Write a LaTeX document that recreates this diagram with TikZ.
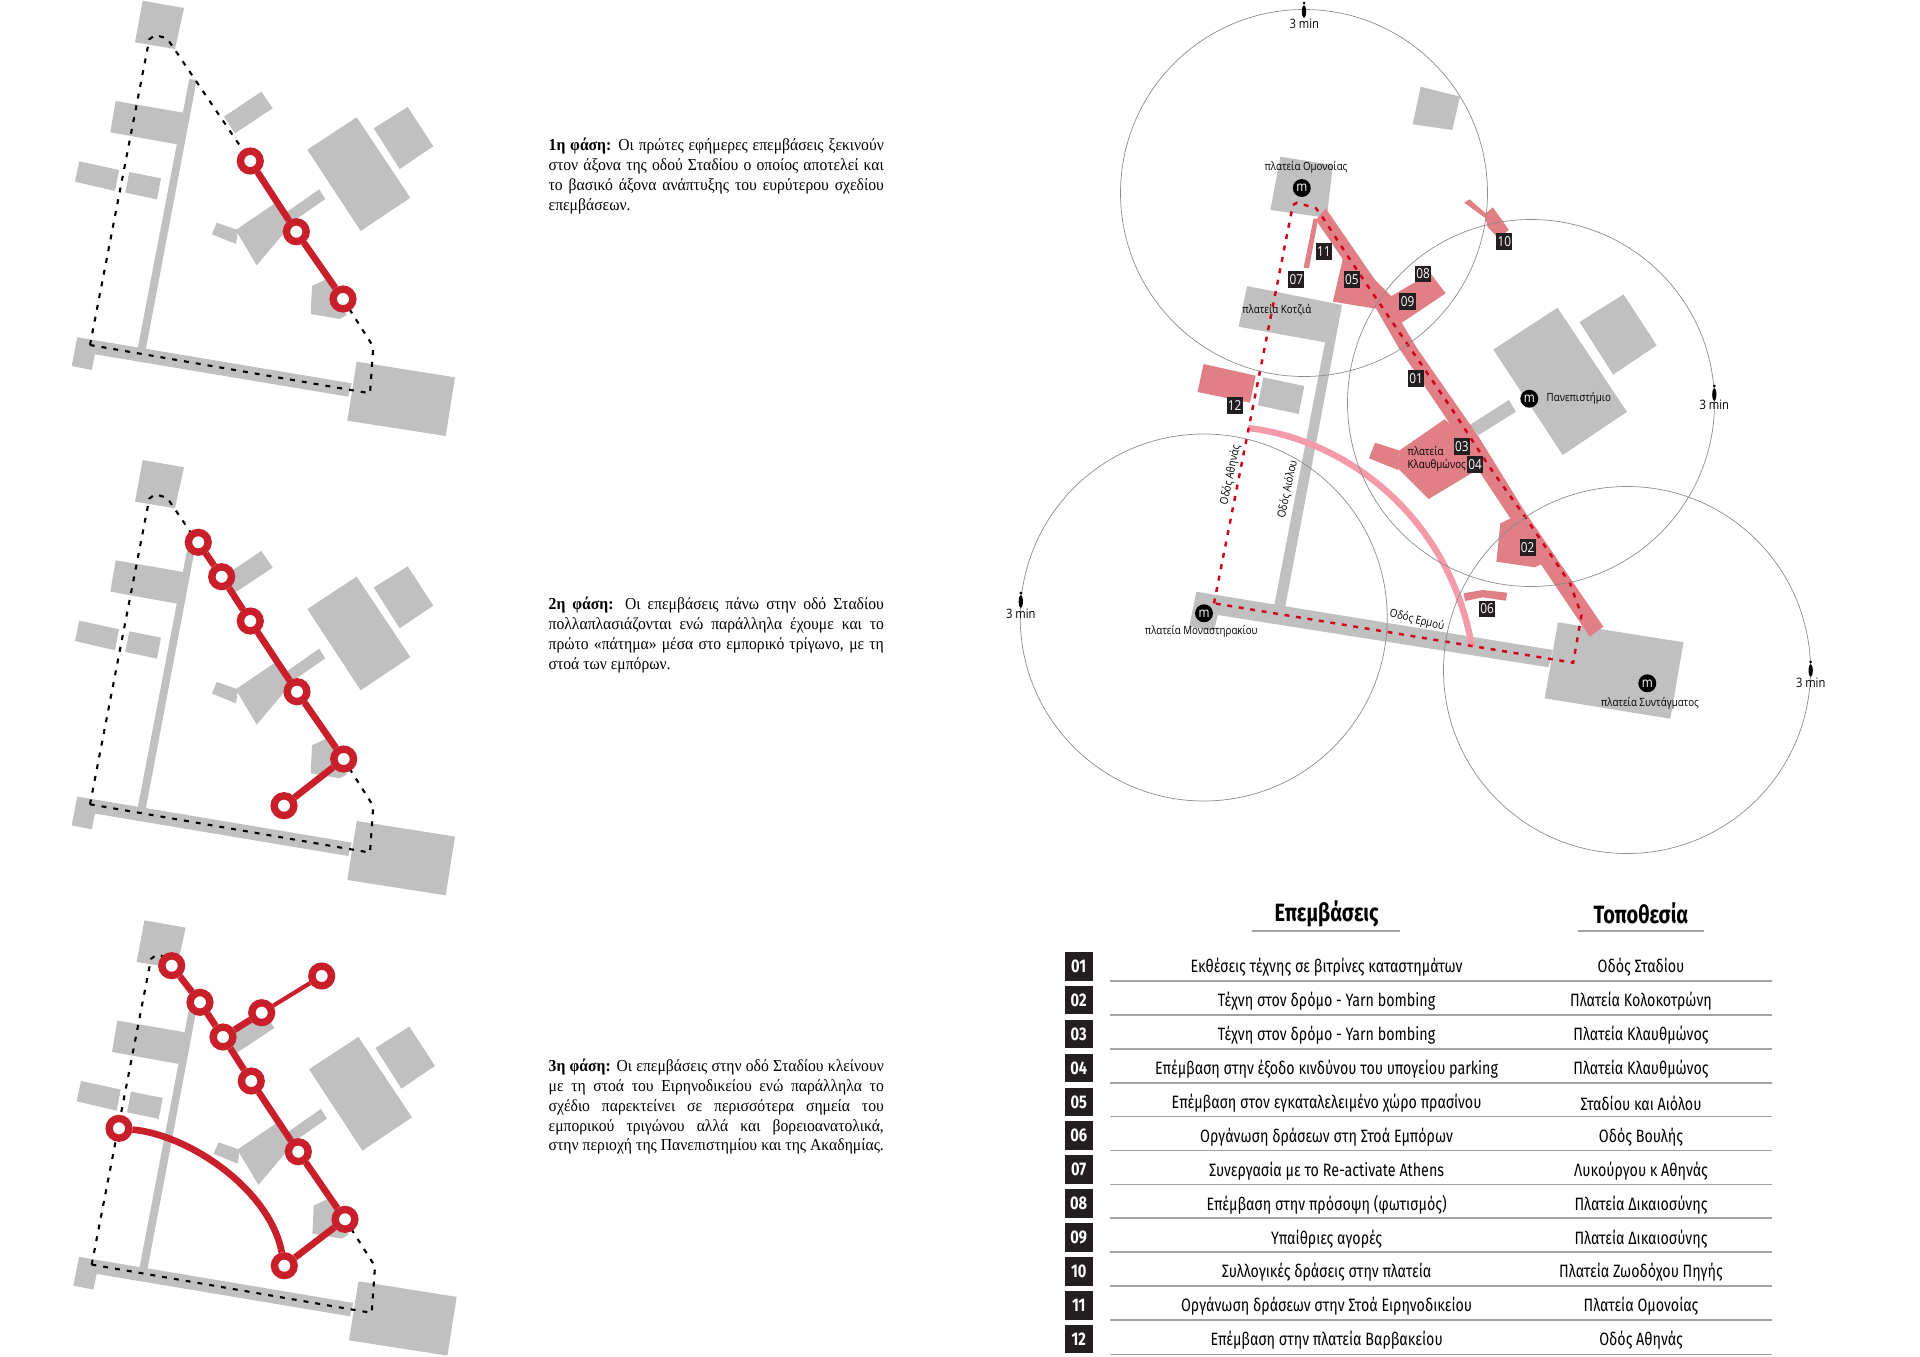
\documentclass[tikz,border=0pt]{standalone}
\usepackage{fontspec}
\setmainfont[FakeStretch=0.93]{Liberation Serif}
\newfontfamily\mapfont[FakeStretch=0.86]{Open Sans}
\newfontfamily\listfont[FakeStretch=0.8]{Fira Sans}
\definecolor{blockgrey}{HTML}{C1C0C0}
\definecolor{zonered}{HTML}{E17F86}
\definecolor{arcpink}{HTML}{F49AA9}
\definecolor{ringred}{HTML}{C91F2A}
\definecolor{routered}{HTML}{D0021B}
\definecolor{tagblack}{HTML}{231F20}
\tikzset{
  block/.style={fill=blockgrey},
  zone/.style={fill=zonered},
  blackroute/.style={black,line width=.6pt,dash pattern=on 1.4pt off 2pt},
  redroute/.style={routered,line width=.7pt,dash pattern=on 1.4pt off 1.9pt},
  stop/.style={circle,draw=ringred,fill=white,line width=2.1pt,minimum size=5.6pt,inner sep=0pt},
  link/.style={ringred,line width=1.9pt},
  thinlink/.style={ringred,line width=1.2pt},
  walk/.style={draw=black!45,line width=.2pt},
  tag/.style={fill=tagblack,text=white,inner sep=0pt,minimum width=4.6pt,minimum height=4.8pt,font=\mapfont\fontsize{3.9}{3.9}\selectfont},
  rowtag/.style={fill=tagblack,text=white,inner sep=0pt,minimum width=8pt,minimum height=8.2pt,font=\listfont\bfseries\fontsize{5.2}{5.5}\selectfont},
  metro/.style={circle,fill=black,text=white,inner sep=0pt,minimum size=5.1pt,font=\mapfont\fontsize{3.9}{3.9}\selectfont},
  place/.style={inner sep=0pt,font=\mapfont\fontsize{3.22}{3.7}\selectfont},
  minute/.style={inner sep=0pt,font=\mapfont\fontsize{3.7}{3.7}\selectfont},
  rowtext/.style={inner sep=0pt,yshift=-.3pt,font=\listfont\fontsize{5.08}{5.6}\selectfont},
  headtext/.style={inner sep=0pt,font=\listfont\bfseries\fontsize{7.1}{7.5}\selectfont},
  rowrule/.style={blockgrey!85!black,line width=.5pt},
  phase/.style={inner sep=0pt,anchor=north west,align=left,font=\fontsize{4.78}{5.67}\selectfont},
}
% one justified line of a phase text
\newcommand{\fline}[1]{\makebox[95.3pt][s]{#1}\\}
% small walking figure, the feet end at (x,y)
\newcommand{\walker}[2]{
\fill[black] (#1,#2-15) circle (1.5);
\fill[black] (#1,#2-6.5) ellipse (2.1 and 6.5);
}
% the grey plan under the three small maps
\newcommand{\basemap}{
\fill[block] (142.7,0.7) -- (184,8) -- (175,49) -- (135,42.3) -- cycle;
\fill[block] (189.3,79) -- (196.7,80) -- (145.7,350) -- (137.7,348.3) -- cycle;
\fill[block] (115.7,101) -- (187,113.3) -- (176.7,144.3) -- (110.3,132.3) -- cycle;
\fill[block] (79.3,161.3) -- (119,170) -- (115,191) -- (75,181.7) -- cycle;
\fill[block] (129.3,172) -- (161,178.3) -- (157,199.3) -- (125.3,192.7) -- cycle;
\fill[block] (224,116.7) -- (261.3,91.7) -- (272.7,108.3) -- (235,133.3) -- cycle;
\fill[block] (356.7,117.3) -- (410.3,197.7) -- (360.7,231) -- (307.3,149.7) -- cycle;
\fill[block] (407.7,107) -- (433.3,146.3) -- (399.7,169) -- (373.7,128.3) -- cycle;
\fill[block] (235.7,230) -- (274,204) -- (285,213.3) -- (319.3,189.3) -- (325.3,199) -- (295,220) -- (256.7,265.3) -- cycle;
\fill[block] (216.7,222.7) -- (238,230) -- (236,244) -- (212,234.3) -- cycle;
\fill[block] (312,286) -- (328.3,278.3) -- (343.3,300) -- (346.7,315) -- (340,319) -- (310.7,314) -- cycle;
\fill[block] (77.3,337.3) -- (351.7,383.3) -- (348.3,396.7) -- (95,354.3) -- (91.7,370) -- (71.7,366) -- cycle;
\fill[block] (356.7,361.7) -- (455,377.3) -- (445.7,436) -- (347.3,420.7) -- cycle;
\draw[blackroute] (90,345) -- (149.3,39.3) -- (155,35) -- (167,38.3) -- (175,50) -- (250.3,161) -- (296.3,231.7) -- (343,299) -- (373.3,346.7) -- (370,393.3) -- cycle;
}

\begin{document}
\begin{tikzpicture}[x=.01cm,y=-.01cm]
\useasboundingbox (0,0) rectangle (1920,1357);

% first phase
\basemap
\node[stop] (A1) at (250.3,161) {};
\node[stop] (A2) at (296.3,231.7) {};
\node[stop] (A3) at (343,299) {};
\draw[link] (A1) -- (A2);
\draw[link] (A2) -- (A3);

% second phase
\begin{scope}[shift={(0,459.3)}]
\basemap
\end{scope}
\node[stop] (B1) at (198.3,542.3) {};
\node[stop] (B2) at (221.7,576.7) {};
\node[stop] (B3) at (250.3,621) {};
\node[stop] (B4) at (297,691.7) {};
\node[stop] (B5) at (343.7,759) {};
\node[stop] (B6) at (284,805.7) {};
\draw[link] (B1) -- (B2);
\draw[link] (B2) -- (B3);
\draw[link] (B3) -- (B4);
\draw[link] (B4) -- (B5);
\draw[link] (B5) -- (B6);

% third phase
\begin{scope}[shift={(1.7,919.6)}]
\basemap
\end{scope}
\node[stop] (C1) at (171.7,965.7) {};
\node[stop] (C2) at (200,1002.3) {};
\node[stop] (C3) at (223,1037) {};
\node[stop] (C4) at (251.3,1081) {};
\node[stop] (C5) at (298.3,1151.7) {};
\node[stop] (C6) at (345,1219.3) {};
\node[stop] (C7) at (284.3,1265.7) {};
\node[stop] (C8) at (119,1128.3) {};
\node[stop] (C9) at (261.7,1012.7) {};
\node[stop] (C10) at (321.7,976) {};
\draw[link] (C1) -- (C2);
\draw[link] (C2) -- (C3);
\draw[link] (C3) -- (C4);
\draw[link] (C4) -- (C5);
\draw[link] (C5) -- (C6);
\draw[link] (C6) -- (C7);
\draw[link] (C3) -- (C9);
\draw[thinlink] (C9) -- (C10);
\draw[link] (C8) .. controls (190,1135) and (270,1190) .. (C7);

% phase texts
\node[phase] (T1) at (548,137) {\fline{\textbf{1η φάση:} Οι πρώτες εφήμερες επεμβάσεις ξεκινούν}\fline{στον άξονα της οδού Σταδίου ο οποίος αποτελεί και}\fline{το βασικό άξονα ανάπτυξης του ευρύτερου σχεδίου}επεμβάσεων.};
\node[phase] (T2) at (548,596) {\fline{\textbf{2η φάση:} Οι επεμβάσεις πάνω στην οδό Σταδίου}\fline{πολλαπλασιάζονται ενώ παράλληλα έχουμε και το}\fline{πρώτο «πάτημα» μέσα στο εμπορικό τρίγωνο, με τη}στοά των εμπόρων.};
\node[phase] (T3) at (548,1058) {\fline{\textbf{3η φάση:} Οι επεμβάσεις στην οδό Σταδίου κλείνουν}\fline{με τη στοά του Ειρηνοδικείου ενώ παράλληλα το}\fline{σχέδιο παρεκτείνει σε περισσότερα σημεία του}\fline{εμπορικού τριγώνου αλλά και βορειοανατολικά,}\fline{στην περιοχή της Πανεπιστημίου και της Ακαδημίας.}};

% large plan, grey
\fill[block] (1420.7,86.7) -- (1460,96.7) -- (1452.3,130) -- (1412.7,124.3) -- cycle;
\fill[block] (1280.4,156.7) -- (1332.9,165) -- (1326.8,217.7) -- (1270.4,210) -- cycle;
\fill[block] (1247.1,286) -- (1342.1,305) -- (1325,342.3) -- (1238.6,326.7) -- cycle;
\fill[block] (1342.1,305) -- (1285.2,606.7) -- (1274.3,605) -- (1325,342.3) -- cycle;
\fill[block] (1263.2,377.3) -- (1304.3,386) -- (1298.6,414) -- (1257.9,405.3) -- cycle;
\fill[block] (1557.5,307.7) -- (1627,411.8) -- (1562.7,455) -- (1493.3,349.6) -- cycle;
\fill[block] (1623.6,294.4) -- (1656.7,345.3) -- (1613.2,374.7) -- (1579.5,322) -- cycle;
\fill[block] (1508.9,400) -- (1516,411.7) -- (1478.6,435) -- (1469.6,425) -- cycle;
\fill[block] (1196.4,591.7) -- (1552.9,650) -- (1548.5,667.3) -- (1217.8,615) -- (1214,630.7) -- (1189.2,626.7) -- cycle;
\fill[block] (1557.9,622.3) -- (1683.5,642.3) -- (1670.3,718.7) -- (1544.7,698.3) -- cycle;

% large plan, the arc and the red zones
\draw[arcpink,line width=1.8pt] (1248,428) .. controls (1350,440) and (1450,520) .. (1472,647);
\fill[zone] (1325.7,208.3) -- (1384,293) -- (1416,346.7) -- (1478.6,436.7) -- (1525,512) -- (1603.4,626.7) -- (1589.7,636.7) -- (1540,563) -- (1482.7,476.7) -- (1446,418) -- (1398,346.7) -- (1375,306.7) -- (1316,220) -- cycle;
\fill[zone] (1316,220) -- (1343,258) -- (1332.9,301.7) -- (1378,309) -- (1395,300) -- cycle;
\fill[zone] (1313.6,218.3) -- (1318,219.3) -- (1309,268.3) -- (1303.6,267.7) -- cycle;
\fill[zone] (1387.5,298.3) -- (1416,281.7) -- (1430.4,273.3) -- (1445.7,293.3) -- (1401.8,322.7) -- (1392,322) -- cycle;
\fill[zone] (1444.6,419.3) -- (1400,450) -- (1398,468.3) -- (1428.6,499) -- (1471.4,473.3) -- (1490,460) -- cycle;
\fill[zone] (1375,442.7) -- (1400,450.7) -- (1398,470) -- (1369,458.3) -- cycle;
\fill[zone] (1512.9,517.3) -- (1500.3,523.3) -- (1496.4,561.7) -- (1534.8,567.3) -- (1543,563.3) -- (1525,515) -- cycle;
\fill[zone] (1464.3,202.7) -- (1469.6,199.3) -- (1485.7,213.3) -- (1492.9,207.3) -- (1508.9,230) -- (1498.2,238.3) -- (1487.5,226.7) -- (1485.7,218.3) -- cycle;
\fill[zone] (1463.5,593.3) -- (1482.7,590) -- (1507.4,592.7) -- (1505.8,600.7) -- (1482.7,597.3) -- (1465.2,601) -- cycle;
\fill[zone] (1203.6,364) -- (1255.7,375.7) -- (1250,402.7) -- (1197.5,392) -- cycle;

% large plan, the route
\draw[redroute] (1214,603.3) -- (1292.9,205) -- (1297,202.7) -- (1316,208.3) -- (1323.2,218.3) -- (1353.6,265) -- (1384,310) -- (1416,356.7) -- (1453.6,411.7) -- (1489.3,466.7) -- (1525,516.7) -- (1570,583.3) -- (1581.5,615) -- (1573.2,662.7) -- cycle;

% three minute circles
\draw[walk] (1304,193) circle (183.5);
\draw[walk] (1531,403) circle (183.5);
\draw[walk] (1203.7,617.5) circle (183.5);
\draw[walk] (1627,670) circle (183.5);
\walker{1304}{18}
\walker{1020.8}{608}
\walker{1714.3}{401}
\walker{1810.7}{677}
\node[minute] (M1) at (1304.3,24) {3 min};
\node[minute] (M2) at (1020.8,614) {3 min};
\node[minute] (M3) at (1714.3,405) {3 min};
\node[minute] (M4) at (1810.7,683) {3 min};

% places on the plan
\node[metro] (S1) at (1301.8,188) {m};
\node[metro] (S2) at (1529.3,398.7) {m};
\node[metro] (S3) at (1204,613.3) {m};
\node[metro] (S4) at (1647.3,683.3) {m};
\node[place] (P1) at (1306,167) {πλατεία Ομονοίας};
\node[place] (P2) at (1276.8,310.3) {πλατεία Κοτζιά};
\node[place,anchor=west] (P3) at (1546,398.7) {Πανεπιστήμιο};
\node[place,anchor=west,align=left] (P4) at (1407,458.5) {πλατεία\\Κλαυθμώνος};
\node[place,rotate=78] (P5) at (1230.4,475) {Οδός Αθηνάς};
\node[place,rotate=78] (P6) at (1287.5,489.3) {Οδός Αιόλου};
\node[place,rotate=-14] (P7) at (1416.9,620.3) {Οδός Ερμού};
\node[place] (P8) at (1201.3,631.3) {πλατεία Μοναστηρακίου};
\node[place] (P9) at (1650,703.3) {πλατεία Συντάγματος};

% numbers on the plan
\node[tag] (G1) at (1416,378.7) {01};
\node[tag] (G2) at (1527.7,547.3) {02};
\node[tag] (G3) at (1461.8,446.7) {03};
\node[tag] (G4) at (1475,464.7) {04};
\node[tag] (G5) at (1351.8,279.7) {05};
\node[tag] (G6) at (1487.1,609) {06};
\node[tag] (G7) at (1296.4,279.7) {07};
\node[tag] (G8) at (1423.2,274) {08};
\node[tag] (G9) at (1407.5,301.7) {09};
\node[tag] (G10) at (1504.3,241.7) {10};
\node[tag] (G11) at (1323.9,251.7) {11};
\node[tag] (G12) at (1234.6,405.3) {12};

% table
\node[headtext] (H1) at (1326.6,913.5) {Επεμβάσεις};
\node[headtext] (H2) at (1641,913.5) {Τοποθεσία};
\draw[rowrule] (1252.4,931.3) -- (1400.2,931.3);
\draw[rowrule] (1577.8,931.3) -- (1704,931.3);

\node[rowtag] (N1) at (1078.7,966.2) {01};
\node[rowtext] (W1) at (1326.6,966.5) {Εκθέσεις τέχνης σε βιτρίνες καταστημάτων};
\node[rowtext] (L1) at (1641,966.5) {Οδός Σταδίου};
\draw[rowrule] (1110,981) -- (1771.5,981);

\node[rowtag] (N2) at (1078.7,1000) {02};
\node[rowtext] (W2) at (1326.6,1000.4) {Τέχνη στον δρόμο - Yarn bombing};
\node[rowtext] (L2) at (1641,1000.4) {Πλατεία Κολοκοτρώνη};
\draw[rowrule] (1110,1014.9) -- (1771.5,1014.9);

\node[rowtag] (N3) at (1078.7,1034) {03};
\node[rowtext] (W3) at (1326.6,1034.3) {Τέχνη στον δρόμο - Yarn bombing};
\node[rowtext] (L3) at (1641,1034.3) {Πλατεία Κλαυθμώνος};
\draw[rowrule] (1110,1048.8) -- (1771.5,1048.8);

\node[rowtag] (N4) at (1078.7,1068) {04};
\node[rowtext] (W4) at (1326.6,1068.2) {Επέμβαση στην έξοδο κινδύνου του υπογείου parking};
\node[rowtext] (L4) at (1641,1068.2) {Πλατεία Κλαυθμώνος};
\draw[rowrule] (1110,1082.7) -- (1771.5,1082.7);

\node[rowtag] (N5) at (1078.7,1102) {05};
\node[rowtext] (W5) at (1326.6,1102.1) {Επέμβαση στον εγκαταλελειμένο χώρο πρασίνου};
\node[rowtext] (L5) at (1641,1102.1) {Σταδίου και Αιόλου};
\draw[rowrule] (1110,1116.6) -- (1771.5,1116.6);

\node[rowtag] (N6) at (1078.7,1135.8) {06};
\node[rowtext] (W6) at (1326.6,1136) {Οργάνωση δράσεων στη Στοά Εμπόρων};
\node[rowtext] (L6) at (1641,1136) {Οδός Βουλής};
\draw[rowrule] (1110,1150.5) -- (1771.5,1150.5);

\node[rowtag] (N7) at (1078.7,1169.7) {07};
\node[rowtext] (W7) at (1326.6,1169.9) {Συνεργασία με το Re-activate Athens};
\node[rowtext] (L7) at (1641,1169.9) {Λυκούργου κ Αθηνάς};
\draw[rowrule] (1110,1184.4) -- (1771.5,1184.4);

\node[rowtag] (N8) at (1078.7,1203.6) {08};
\node[rowtext] (W8) at (1326.6,1203.8) {Επέμβαση στην πρόσοψη (φωτισμός)};
\node[rowtext] (L8) at (1641,1203.8) {Πλατεία Δικαιοσύνης};
\draw[rowrule] (1110,1218.3) -- (1771.5,1218.3);

\node[rowtag] (N9) at (1078.7,1237.5) {09};
\node[rowtext] (W9) at (1326.6,1237.7) {Υπαίθριες αγορές};
\node[rowtext] (L9) at (1641,1237.7) {Πλατεία Δικαιοσύνης};
\draw[rowrule] (1110,1252.2) -- (1771.5,1252.2);

\node[rowtag] (N10) at (1078.7,1271.4) {10};
\node[rowtext] (W10) at (1326.6,1271.6) {Συλλογικές δράσεις στην πλατεία};
\node[rowtext] (L10) at (1641,1271.6) {Πλατεία Ζωοδόχου Πηγής};
\draw[rowrule] (1110,1286.1) -- (1771.5,1286.1);

\node[rowtag] (N11) at (1078.7,1305.3) {11};
\node[rowtext] (W11) at (1326.6,1305.5) {Οργάνωση δράσεων στην Στοά Ειρηνοδικείου};
\node[rowtext] (L11) at (1641,1305.5) {Πλατεία Ομονοίας};
\draw[rowrule] (1110,1320) -- (1771.5,1320);

\node[rowtag] (N12) at (1078.7,1339) {12};
\node[rowtext] (W12) at (1326.6,1339.4) {Επέμβαση στην πλατεία Βαρβακείου};
\node[rowtext] (L12) at (1641,1339.4) {Οδός Αθηνάς};
\draw[rowrule] (1110,1354.5) -- (1771.5,1354.5);
\end{tikzpicture}
\end{document}
